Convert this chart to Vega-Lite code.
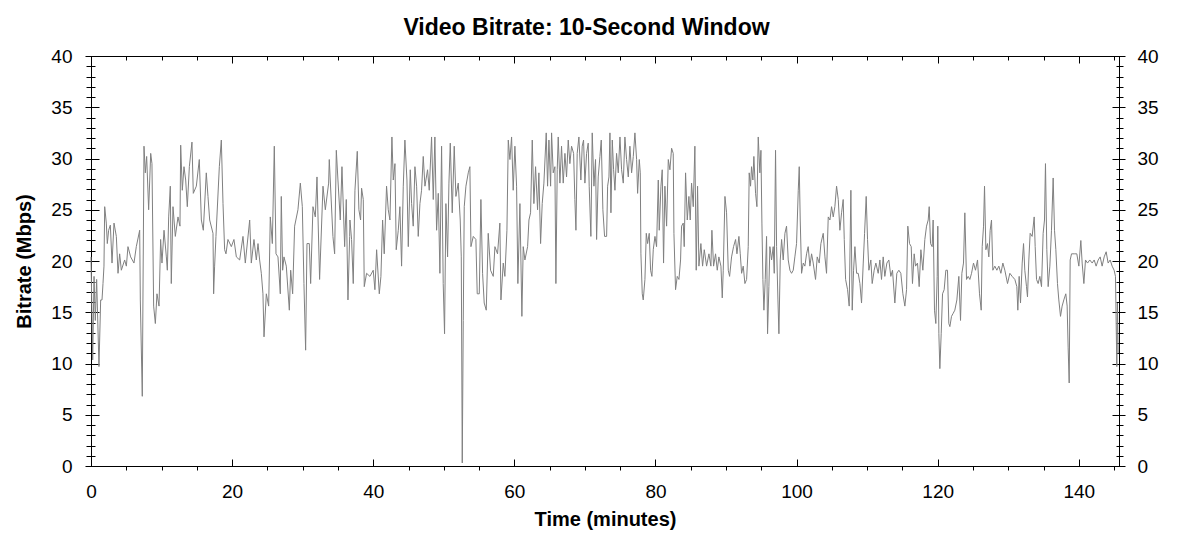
{
"$schema": "https://vega.github.io/schema/vega-lite/v6.json",
"width": 1028, "height": 410,
"autosize": {"type": "none"},
"padding": {"left": 91, "top": 56, "right": 59, "bottom": 86},
"background": "white",
"title": {"text": "Video Bitrate: 10-Second Window", "fontSize": 23, "fontWeight": "bold", "font": "Liberation Sans", "color": "#000", "anchor": "middle", "frame": "bounds", "offset": -11, "baseline": "alphabetic"},
"data": {"values": [
{"t":0,"v":20.4},{"t":0.24,"v":10.35},{"t":0.43,"v":18.5},{"t":0.61,"v":14.2},{"t":0.8,"v":18.2},{"t":1.13,"v":9.7},{"t":1.37,"v":16.2},{"t":1.56,"v":16.2},{"t":1.7,"v":17.8},{"t":1.84,"v":19.5},{"t":1.94,"v":25.3},{"t":2.17,"v":23.7},{"t":2.31,"v":21.7},{"t":2.5,"v":23.0},{"t":2.74,"v":23.5},{"t":2.98,"v":19.8},{"t":3.26,"v":23.7},{"t":3.59,"v":22.4},{"t":3.83,"v":18.8},{"t":4.06,"v":20.7},{"t":4.3,"v":19.1},{"t":4.77,"v":20.1},{"t":5.01,"v":19.5},{"t":5.24,"v":21.4},{"t":5.62,"v":20.4},{"t":6.09,"v":19.8},{"t":6.42,"v":21.4},{"t":6.9,"v":23.0},{"t":6.99,"v":16.2},{"t":7.27,"v":6.8},{"t":7.51,"v":31.2},{"t":7.7,"v":28.6},{"t":7.89,"v":30.2},{"t":8.17,"v":25.0},{"t":8.46,"v":30.5},{"t":8.64,"v":29.5},{"t":8.88,"v":15.6},{"t":9.12,"v":13.9},{"t":9.35,"v":16.8},{"t":9.64,"v":15.6},{"t":9.87,"v":22.1},{"t":10.06,"v":19.8},{"t":10.35,"v":23.0},{"t":10.68,"v":20.4},{"t":10.82,"v":19.1},{"t":11.01,"v":24.3},{"t":11.24,"v":27.3},{"t":11.38,"v":17.8},{"t":11.62,"v":25.3},{"t":11.95,"v":22.4},{"t":12.33,"v":24.3},{"t":12.61,"v":23.4},{"t":12.71,"v":31.3},{"t":12.94,"v":26.9},{"t":13.18,"v":29.2},{"t":13.42,"v":27.9},{"t":13.65,"v":25.3},{"t":13.94,"v":29.2},{"t":14.31,"v":31.6},{"t":14.5,"v":26.6},{"t":14.93,"v":27.3},{"t":15.35,"v":29.9},{"t":15.64,"v":24.0},{"t":15.92,"v":23.0},{"t":16.34,"v":28.6},{"t":16.58,"v":26.3},{"t":16.82,"v":24.0},{"t":17.29,"v":22.7},{"t":17.38,"v":16.8},{"t":17.52,"v":19.5},{"t":17.71,"v":22.4},{"t":18.19,"v":29.2},{"t":18.47,"v":31.8},{"t":18.71,"v":25.6},{"t":18.94,"v":21.1},{"t":19.13,"v":20.7},{"t":19.41,"v":22.1},{"t":19.89,"v":21.4},{"t":20.26,"v":22.1},{"t":20.6,"v":20.4},{"t":21.07,"v":20.1},{"t":21.54,"v":22.4},{"t":21.87,"v":19.8},{"t":22.49,"v":24.0},{"t":22.72,"v":19.8},{"t":23.1,"v":22.1},{"t":23.43,"v":20.1},{"t":23.67,"v":21.7},{"t":23.9,"v":20.1},{"t":24.14,"v":18.8},{"t":24.37,"v":16.8},{"t":24.52,"v":12.6},{"t":24.85,"v":16.8},{"t":25.18,"v":15.6},{"t":25.41,"v":24.3},{"t":25.7,"v":21.7},{"t":25.98,"v":31.2},{"t":26.22,"v":20.7},{"t":26.5,"v":20.4},{"t":26.83,"v":16.8},{"t":26.97,"v":26.3},{"t":27.16,"v":19.1},{"t":27.35,"v":20.4},{"t":27.68,"v":19.5},{"t":28.11,"v":15.2},{"t":28.3,"v":19.1},{"t":28.58,"v":16.8},{"t":28.86,"v":23.4},{"t":29.33,"v":25.0},{"t":29.67,"v":27.6},{"t":29.95,"v":25.3},{"t":30.18,"v":17.8},{"t":30.42,"v":11.3},{"t":30.61,"v":21.7},{"t":30.94,"v":21.7},{"t":31.13,"v":17.8},{"t":31.46,"v":25.3},{"t":31.79,"v":24.3},{"t":32.03,"v":28.2},{"t":32.4,"v":18.2},{"t":32.88,"v":27.3},{"t":33.21,"v":25.0},{"t":33.68,"v":27.6},{"t":33.77,"v":29.9},{"t":34.29,"v":22.4},{"t":34.53,"v":20.7},{"t":34.77,"v":30.8},{"t":35.0,"v":27.9},{"t":35.33,"v":24.0},{"t":35.57,"v":29.2},{"t":35.95,"v":21.4},{"t":36.18,"v":26.0},{"t":36.42,"v":16.2},{"t":36.66,"v":22.4},
{"t":36.7,"v":24.0},{"t":36.93,"v":22.1},{"t":37.17,"v":17.8},{"t":37.41,"v":26.9},{"t":37.74,"v":30.7},{"t":37.97,"v":25.0},{"t":38.21,"v":24.0},{"t":38.35,"v":27.1},{"t":38.59,"v":26.0},{"t":38.73,"v":17.5},{"t":39.06,"v":18.8},{"t":39.53,"v":18.5},{"t":40.0,"v":19.1},{"t":40.24,"v":17.2},{"t":40.48,"v":21.1},{"t":40.86,"v":16.8},{"t":41.09,"v":18.5},{"t":41.33,"v":24.0},{"t":41.56,"v":20.7},{"t":41.89,"v":27.3},{"t":42.13,"v":25.0},{"t":42.37,"v":24.0},{"t":42.65,"v":32.1},{"t":42.84,"v":27.9},{"t":43.08,"v":29.5},{"t":43.26,"v":21.1},{"t":43.55,"v":23.0},{"t":43.78,"v":25.3},{"t":44.02,"v":19.5},{"t":44.26,"v":27.3},{"t":44.49,"v":31.8},{"t":44.78,"v":27.9},{"t":44.97,"v":21.4},{"t":45.25,"v":28.9},{"t":45.44,"v":25.6},{"t":45.67,"v":23.4},{"t":45.91,"v":29.2},{"t":46.15,"v":27.3},{"t":46.38,"v":22.4},{"t":46.62,"v":25.6},{"t":46.85,"v":26.9},{"t":47.09,"v":30.2},{"t":47.33,"v":27.3},{"t":47.7,"v":28.9},{"t":47.94,"v":26.9},{"t":48.27,"v":32.1},{"t":48.51,"v":26.0},{"t":48.74,"v":32.1},{"t":48.98,"v":23.0},{"t":49.22,"v":26.6},{"t":49.45,"v":18.8},{"t":49.69,"v":31.2},{"t":49.92,"v":17.8},{"t":50.11,"v":12.9},{"t":50.3,"v":25.6},{"t":50.54,"v":20.4},{"t":50.73,"v":27.6},{"t":50.92,"v":31.5},{"t":51.2,"v":24.7},{"t":51.48,"v":31.2},{"t":51.72,"v":26.3},{"t":52.05,"v":27.6},{"t":52.33,"v":24.0},{"t":52.48,"v":20.4},{"t":52.62,"v":0.3},{"t":52.76,"v":14.2},{"t":52.9,"v":25.3},{"t":53.14,"v":27.3},{"t":53.47,"v":28.6},{"t":53.7,"v":29.2},{"t":53.85,"v":21.4},{"t":54.18,"v":22.4},{"t":54.55,"v":22.1},{"t":54.74,"v":16.8},{"t":55.03,"v":16.8},{"t":55.26,"v":26.0},{"t":55.5,"v":18.8},{"t":55.73,"v":15.9},{"t":56.02,"v":15.2},{"t":56.3,"v":22.7},{"t":56.63,"v":19.1},{"t":57.01,"v":18.5},{"t":57.25,"v":21.4},{"t":57.62,"v":20.7},{"t":57.95,"v":23.7},{"t":58.1,"v":16.2},{"t":58.43,"v":19.8},{"t":58.66,"v":18.5},{"t":58.95,"v":23.0},{"t":59.14,"v":31.8},{"t":59.37,"v":29.9},{"t":59.61,"v":32.1},{"t":59.84,"v":26.9},{"t":60.08,"v":31.2},{"t":60.32,"v":27.3},{"t":60.5,"v":17.8},{"t":60.79,"v":25.6},{"t":61.07,"v":14.6},{"t":61.26,"v":21.4},{"t":61.5,"v":20.1},{"t":61.88,"v":21.4},{"t":62.07,"v":24.0},{"t":62.3,"v":24.7},{"t":62.54,"v":31.8},{"t":62.77,"v":25.6},{"t":63.01,"v":29.2},{"t":63.29,"v":25.0},{"t":63.48,"v":28.6},{"t":63.72,"v":21.7},{"t":63.95,"v":25.6},{"t":64.19,"v":27.6},{"t":64.52,"v":32.5},{"t":64.71,"v":27.3},{"t":64.9,"v":31.8},{"t":65.14,"v":27.3},{"t":65.28,"v":32.5},{"t":65.51,"v":28.6},{"t":65.75,"v":29.2},{"t":65.89,"v":17.8},{"t":66.08,"v":28.9},{"t":66.22,"v":32.1},{"t":66.46,"v":27.6},{"t":66.69,"v":31.2},{"t":66.93,"v":27.6},{"t":67.17,"v":30.5},{"t":67.4,"v":28.2},{"t":67.64,"v":31.8},{"t":67.87,"v":29.5},{"t":68.11,"v":31.2},{"t":68.4,"v":30.5},{"t":68.58,"v":26.0},{"t":68.73,"v":23.0},{"t":68.91,"v":30.5},{"t":69.15,"v":32.1},{"t":69.43,"v":27.9},{"t":69.62,"v":31.2},{"t":69.81,"v":31.8},{"t":70.0,"v":27.6},{"t":70.24,"v":30.5},{"t":70.47,"v":31.5},{"t":70.61,"v":27.3},{"t":70.85,"v":22.4},{"t":71.04,"v":32.5},{"t":71.28,"v":27.3},{"t":71.51,"v":29.9},{"t":71.66,"v":22.1},{"t":71.89,"v":28.2},{"t":72.13,"v":30.2},{"t":72.32,"v":31.8},{"t":72.55,"v":25.0},{"t":72.79,"v":22.4},
{"t":73.08,"v":22.4},{"t":73.22,"v":27.3},{"t":73.41,"v":28.2},{"t":73.55,"v":32.5},{"t":73.69,"v":24.7},{"t":73.88,"v":31.8},{"t":74.07,"v":28.9},{"t":74.26,"v":26.9},{"t":74.49,"v":30.5},{"t":74.73,"v":28.6},{"t":74.97,"v":32.1},{"t":75.2,"v":28.9},{"t":75.44,"v":27.6},{"t":75.67,"v":32.1},{"t":75.91,"v":29.9},{"t":76.15,"v":28.2},{"t":76.38,"v":31.2},{"t":76.62,"v":28.6},{"t":76.86,"v":30.2},{"t":77.09,"v":32.5},{"t":77.33,"v":29.9},{"t":77.47,"v":26.6},{"t":77.71,"v":29.9},{"t":77.85,"v":28.6},{"t":77.94,"v":20.7},{"t":78.13,"v":16.8},{"t":78.27,"v":16.2},{"t":78.51,"v":18.2},{"t":78.7,"v":22.7},{"t":78.89,"v":21.7},{"t":79.12,"v":22.7},{"t":79.31,"v":19.1},{"t":79.5,"v":18.5},{"t":79.69,"v":21.1},{"t":79.93,"v":22.4},{"t":80.16,"v":21.4},{"t":80.4,"v":27.9},{"t":80.54,"v":23.0},{"t":80.78,"v":27.3},{"t":80.96,"v":28.9},{"t":81.15,"v":19.8},{"t":81.34,"v":27.3},{"t":81.58,"v":23.4},{"t":81.82,"v":29.9},{"t":82.05,"v":28.9},{"t":82.29,"v":31.0},{"t":82.52,"v":30.5},{"t":82.62,"v":22.7},{"t":82.85,"v":17.2},{"t":83.09,"v":18.5},{"t":83.33,"v":18.2},{"t":83.56,"v":20.1},{"t":83.7,"v":23.4},{"t":83.94,"v":23.7},{"t":84.08,"v":21.4},{"t":84.27,"v":28.6},{"t":84.51,"v":24.0},{"t":84.74,"v":26.3},{"t":84.93,"v":24.0},{"t":85.12,"v":27.6},{"t":85.36,"v":25.3},{"t":85.59,"v":31.2},{"t":85.78,"v":19.1},{"t":85.97,"v":27.3},{"t":86.16,"v":19.5},{"t":86.44,"v":21.7},{"t":86.68,"v":19.5},{"t":86.92,"v":21.1},{"t":87.25,"v":19.5},{"t":87.58,"v":20.7},{"t":87.86,"v":19.5},{"t":88.0,"v":23.0},{"t":88.24,"v":19.5},{"t":88.52,"v":20.7},{"t":88.76,"v":19.1},{"t":88.99,"v":20.4},{"t":89.28,"v":19.5},{"t":89.47,"v":16.4},{"t":89.61,"v":19.1},{"t":89.85,"v":26.3},{"t":90.08,"v":24.7},{"t":90.32,"v":19.1},{"t":90.51,"v":18.5},{"t":90.79,"v":20.4},{"t":91.07,"v":21.4},{"t":91.36,"v":22.1},{"t":91.55,"v":20.7},{"t":91.83,"v":22.4},{"t":92.02,"v":20.7},{"t":92.21,"v":18.8},{"t":92.44,"v":19.5},{"t":92.68,"v":17.8},{"t":92.92,"v":18.2},{"t":93.15,"v":21.4},{"t":93.29,"v":28.6},{"t":93.48,"v":27.3},{"t":93.62,"v":29.2},{"t":93.81,"v":27.9},{"t":93.95,"v":30.2},{"t":94.19,"v":26.6},{"t":94.38,"v":25.3},{"t":94.57,"v":32.1},{"t":94.8,"v":28.6},{"t":94.95,"v":30.8},{"t":95.09,"v":23.7},{"t":95.23,"v":18.2},{"t":95.37,"v":15.2},{"t":95.56,"v":18.2},{"t":95.75,"v":22.4},{"t":95.89,"v":12.9},{"t":96.08,"v":17.5},{"t":96.22,"v":21.4},{"t":96.46,"v":20.1},{"t":96.69,"v":21.4},{"t":96.84,"v":18.8},{"t":97.02,"v":30.8},{"t":97.17,"v":21.4},{"t":97.36,"v":16.2},{"t":97.5,"v":12.9},{"t":97.69,"v":20.1},{"t":97.88,"v":22.1},{"t":98.11,"v":20.1},{"t":98.35,"v":22.7},{"t":98.58,"v":23.4},{"t":98.82,"v":20.1},{"t":99.06,"v":19.1},{"t":99.29,"v":18.8},{"t":99.53,"v":19.1},{"t":99.76,"v":20.4},{"t":100.0,"v":21.7},{"t":100.24,"v":26.9},{"t":100.38,"v":29.2},{"t":100.52,"v":24.0},{"t":100.71,"v":18.8},{"t":100.95,"v":19.8},{"t":101.18,"v":19.5},{"t":101.42,"v":20.7},{"t":101.65,"v":21.4},{"t":101.89,"v":19.5},{"t":102.13,"v":20.7},{"t":102.36,"v":19.8},{"t":102.69,"v":18.2},{"t":102.93,"v":20.4},{"t":103.21,"v":19.8},{"t":103.45,"v":21.7},{"t":103.78,"v":22.7},{"t":104.02,"v":20.4},{"t":104.25,"v":18.8},{"t":104.49,"v":24.3},{"t":104.73,"v":24.0},{"t":104.96,"v":25.3},{"t":105.2,"v":24.3},{"t":105.43,"v":25.3},{"t":105.67,"v":27.3},{"t":105.91,"v":26.0},{"t":106.14,"v":23.0},{"t":106.38,"v":24.7},{"t":106.61,"v":26.0},{"t":106.76,"v":22.1},{"t":106.95,"v":18.2},{"t":107.23,"v":17.2},{"t":107.46,"v":15.6},{"t":107.7,"v":26.9},{"t":107.89,"v":15.2},{"t":108.08,"v":19.1},{"t":108.27,"v":21.4},{"t":108.51,"v":18.8},{"t":108.74,"v":18.8},{"t":108.98,"v":17.8},{"t":109.21,"v":15.9},{"t":109.45,"v":19.8},{"t":109.64,"v":22.7},
{"t":109.87,"v":26.3},{"t":110.06,"v":22.1},{"t":110.25,"v":19.1},{"t":110.53,"v":20.1},{"t":110.72,"v":17.8},{"t":111.0,"v":19.1},{"t":111.24,"v":19.8},{"t":111.57,"v":18.8},{"t":111.81,"v":20.1},{"t":112.04,"v":18.2},{"t":112.28,"v":20.4},{"t":112.51,"v":18.5},{"t":112.8,"v":19.8},{"t":113.08,"v":20.1},{"t":113.36,"v":18.5},{"t":113.6,"v":19.1},{"t":113.93,"v":15.9},{"t":114.21,"v":18.8},{"t":114.5,"v":19.1},{"t":114.78,"v":18.8},{"t":115.07,"v":16.8},{"t":115.35,"v":15.6},{"t":115.59,"v":17.2},{"t":115.77,"v":23.4},{"t":116.01,"v":21.7},{"t":116.25,"v":21.4},{"t":116.43,"v":17.8},{"t":116.67,"v":20.7},{"t":116.86,"v":19.5},{"t":117.14,"v":19.8},{"t":117.38,"v":17.5},{"t":117.62,"v":21.1},{"t":117.9,"v":19.1},{"t":118.18,"v":22.1},{"t":118.42,"v":23.4},{"t":118.66,"v":24.0},{"t":118.8,"v":25.3},{"t":118.99,"v":21.7},{"t":119.22,"v":21.4},{"t":119.36,"v":24.0},{"t":119.55,"v":15.2},{"t":119.74,"v":13.9},{"t":119.93,"v":18.5},{"t":120.02,"v":23.4},{"t":120.17,"v":12.9},{"t":120.31,"v":9.5},{"t":120.5,"v":12.9},{"t":120.69,"v":16.8},{"t":120.92,"v":17.2},{"t":121.16,"v":19.1},{"t":121.39,"v":19.1},{"t":121.58,"v":13.9},{"t":121.73,"v":13.6},{"t":121.96,"v":14.6},{"t":122.2,"v":14.9},{"t":122.43,"v":15.2},{"t":122.72,"v":16.2},{"t":123.0,"v":18.5},{"t":123.24,"v":14.2},{"t":123.43,"v":18.8},{"t":123.66,"v":19.8},{"t":123.85,"v":24.7},{"t":124.09,"v":18.2},{"t":124.32,"v":18.5},{"t":124.56,"v":18.2},{"t":124.8,"v":18.8},{"t":125.08,"v":19.8},{"t":125.36,"v":19.1},{"t":125.65,"v":20.1},{"t":125.93,"v":16.8},{"t":126.17,"v":15.2},{"t":126.31,"v":21.4},{"t":126.5,"v":23.4},{"t":126.64,"v":27.3},{"t":126.83,"v":21.1},{"t":127.06,"v":21.7},{"t":127.25,"v":20.4},{"t":127.44,"v":23.0},{"t":127.63,"v":24.0},{"t":127.82,"v":19.1},{"t":128.1,"v":19.5},{"t":128.39,"v":19.1},{"t":128.67,"v":19.5},{"t":128.96,"v":18.8},{"t":129.24,"v":19.8},{"t":129.52,"v":19.1},{"t":129.9,"v":17.8},{"t":130.23,"v":18.8},{"t":130.56,"v":18.5},{"t":130.94,"v":18.2},{"t":131.22,"v":17.5},{"t":131.36,"v":15.2},{"t":131.55,"v":18.5},{"t":131.74,"v":15.9},{"t":131.98,"v":19.8},{"t":132.17,"v":21.7},{"t":132.35,"v":19.1},{"t":132.59,"v":17.5},{"t":132.73,"v":16.5},{"t":132.92,"v":20.1},{"t":133.11,"v":22.7},{"t":133.39,"v":22.4},{"t":133.68,"v":24.3},{"t":133.82,"v":21.4},{"t":134.01,"v":18.2},{"t":134.24,"v":17.8},{"t":134.48,"v":18.5},{"t":134.72,"v":17.5},{"t":134.95,"v":22.7},{"t":135.14,"v":24.0},{"t":135.28,"v":29.5},{"t":135.47,"v":21.1},{"t":135.66,"v":17.5},{"t":135.9,"v":19.5},{"t":136.13,"v":23.0},{"t":136.37,"v":28.1},{"t":136.56,"v":23.0},{"t":136.75,"v":21.1},{"t":136.98,"v":17.8},{"t":137.17,"v":16.2},{"t":137.41,"v":14.6},{"t":137.64,"v":15.6},{"t":137.88,"v":16.2},{"t":138.16,"v":16.8},{"t":138.35,"v":15.6},{"t":138.49,"v":11.6},{"t":138.64,"v":8.1},{"t":138.78,"v":20.1},{"t":138.97,"v":20.7},{"t":139.35,"v":20.7},{"t":139.72,"v":20.7},{"t":140.01,"v":19.5},{"t":140.29,"v":22.0},{"t":140.48,"v":19.8},{"t":140.72,"v":17.8},{"t":140.95,"v":20.1},{"t":141.24,"v":19.8},{"t":141.56,"v":20.1},{"t":141.9,"v":19.8},{"t":142.18,"v":20.1},{"t":142.46,"v":19.5},{"t":142.75,"v":20.1},{"t":143.03,"v":20.4},{"t":143.31,"v":19.5},{"t":143.6,"v":20.4},{"t":143.88,"v":20.9},{"t":144.16,"v":19.8},{"t":144.45,"v":20.1},{"t":144.73,"v":19.5},{"t":145.01,"v":19.1},{"t":145.2,"v":18.5},{"t":145.39,"v":9.7},{"t":145.48,"v":15.9},{"t":145.58,"v":11.0}
]},
"resolve": {"axis": {"x": "independent", "y": "independent"}},
"layer": [
{"mark": {"type": "line", "color": "#808080", "strokeWidth": 1},
 "encoding": {
  "x": {"field": "t", "type": "quantitative", "scale": {"domain": [0, 145.7], "nice": false, "zero": false},
        "axis": {"orient": "bottom", "values": [0,20,40,60,80,100,120,140], "ticks": false, "labelPadding": 16, "title": "Time (minutes)", "titlePadding": 8}},
  "y": {"field": "v", "type": "quantitative", "scale": {"domain": [0, 40], "nice": false, "zero": false},
        "axis": {"orient": "left", "values": [0,5,10,15,20,25,30,35,40], "ticks": false, "labelPadding": 19, "title": "Bitrate (Mbps)", "titlePadding": 16}}
 }},
{"mark": {"type": "line", "strokeOpacity": 0},
 "encoding": {
  "x": {"field": "t", "type": "quantitative", "axis": {"orient": "bottom", "values": [20,40,60,80,100,120,140], "labels": false, "tickSize": 7, "offset": -7, "title": null}},
  "y": {"field": "v", "type": "quantitative", "axis": {"orient": "left", "values": [0,5,10,15,20,25,30,35,40], "labels": false, "tickSize": 14, "offset": -8, "title": null}}
 }},
{"mark": {"type": "line", "strokeOpacity": 0},
 "encoding": {
  "x": {"field": "t", "type": "quantitative", "axis": {"orient": "bottom", "values": [5,10,15,25,30,35,45,50,55,65,70,75,85,90,95,105,110,115,125,130,135,145], "labels": false, "tickSize": 4, "title": null}},
  "y": {"field": "v", "type": "quantitative", "axis": {"orient": "left", "values": [1,2,3,4,6,7,8,9,11,12,13,14,16,17,18,19,21,22,23,24,26,27,28,29,31,32,33,34,36,37,38,39], "labels": false, "tickSize": 9, "offset": -4, "title": null}}
 }},
{"mark": {"type": "line", "strokeOpacity": 0},
 "encoding": {
  "x": {"field": "t", "type": "quantitative", "axis": {"orient": "top", "values": [20,40,60,80,100,120,140], "labels": false, "tickSize": 7, "offset": -7, "title": null}},
  "y": {"field": "v", "type": "quantitative", "axis": {"orient": "right", "values": [0,5,10,15,20,25,30,35,40], "ticks": false, "labelPadding": 18, "title": null}}
 }},
{"mark": {"type": "line", "strokeOpacity": 0},
 "encoding": {
  "x": {"field": "t", "type": "quantitative", "axis": {"orient": "top", "values": [5,10,15,25,30,35,45,50,55,65,70,75,85,90,95,105,110,115,125,130,135,145], "labels": false, "tickSize": 4, "offset": -4, "title": null}},
  "y": {"field": "v", "type": "quantitative", "axis": {"orient": "right", "values": [0,5,10,15,20,25,30,35,40], "labels": false, "tickSize": 13, "offset": -7, "title": null}}
 }},
{"mark": {"type": "line", "strokeOpacity": 0},
 "encoding": {
  "x": {"field": "t", "type": "quantitative", "axis": null},
  "y": {"field": "v", "type": "quantitative", "axis": {"orient": "right", "values": [1,2,3,4,6,7,8,9,11,12,13,14,16,17,18,19,21,22,23,24,26,27,28,29,31,32,33,34,36,37,38,39], "labels": false, "tickSize": 7, "offset": -3, "title": null}}
 }}
],
"config": {
 "view": {"stroke": "#000", "strokeWidth": 1},
 "axis": {"grid": false, "domain": false, "tickColor": "#000", "tickWidth": 1, "labelColor": "#000", "titleColor": "#000", "labelFont": "Liberation Sans", "titleFont": "Liberation Sans", "labelFontSize": 19, "titleFontSize": 20, "titleFontWeight": "bold", "labelFlush": false, "labelOverlap": false, "labelBound": false}
}
}
